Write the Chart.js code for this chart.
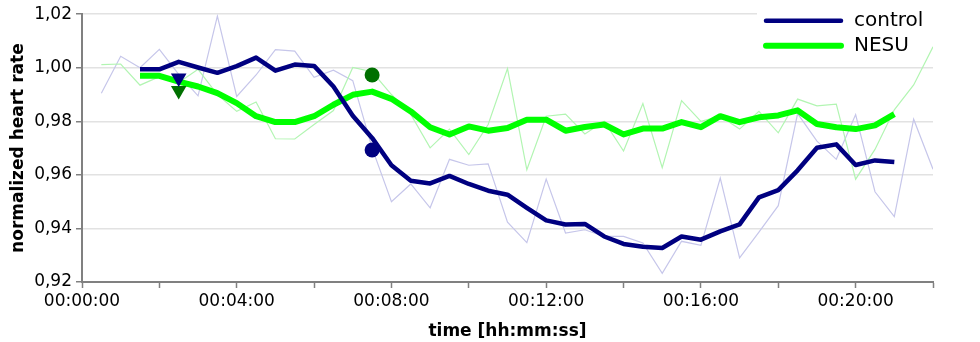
<!DOCTYPE html>
<html>
<head>
<meta charset="utf-8">
<script src="https://cdn.jsdelivr.net/npm/chart.js@4.4.1/dist/chart.umd.min.js"></script>
<style>
  html, body { margin: 0; padding: 0; background: #fff; }
  #chart { display: block; }
</style>
</head>
<body>
<canvas id="chart" width="980" height="342"></canvas>
<script>
// time in minutes
const rawTimes = [0.5, 1, 1.5, 2, 2.5, 3, 3.5, 4, 4.5, 5, 5.5, 6, 6.5, 7, 7.5, 8, 8.5, 9, 9.5, 10, 10.5, 11,
    11.5, 12, 12.5, 13, 13.5, 14, 14.5, 15, 15.5, 16, 16.5, 17, 17.5, 18, 18.5, 19, 19.5, 20, 20.5, 21, 21.5, 22];
const controlRaw = [0.9905, 1.0043, 1.0000, 1.0069, 0.9975, 0.9895, 1.0193, 0.9893, 0.9973, 1.0068, 1.0062,
    0.9964, 0.9991, 0.9952, 0.9700, 0.9500, 0.9566, 0.9477, 0.9658, 0.9636, 0.9641, 0.9423, 0.9347, 0.9584,
    0.9383, 0.9395, 0.9370, 0.9370, 0.9346, 0.9232, 0.9352, 0.9337, 0.9588, 0.9290, 0.9386, 0.9485, 0.9829,
    0.9726, 0.9658, 0.9825, 0.9537, 0.9444, 0.9808, 0.9621];
const nesuRaw = [1.0012, 1.0014, 0.9935, 0.9967, 0.9945, 0.9994, 0.9900, 0.9837, 0.9872, 0.9735, 0.9734,
    0.9788, 0.9840, 1.0001, 0.9985, 0.9900, 0.9826, 0.9701, 0.9771, 0.9676, 0.9788, 0.9997, 0.9619, 0.9819,
    0.9827, 0.9753, 0.9800, 0.9689, 0.9866, 0.9627, 0.9877, 0.9800, 0.9819, 0.9771, 0.9837, 0.9757, 0.9883,
    0.9858, 0.9864, 0.9584, 0.9695, 0.9843, 0.9936, 1.0078];

const smoothTimes = [1.5, 2, 2.5, 3, 3.5, 4, 4.5, 5, 5.5, 6, 6.5, 7, 7.5, 8, 8.5, 9, 9.5, 10, 10.5, 11,
    11.5, 12, 12.5, 13, 13.5, 14, 14.5, 15, 15.5, 16, 16.5, 17, 17.5, 18, 18.5, 19, 19.5, 20, 20.5, 21];
const controlSmooth = [0.9994, 0.9994, 1.0022, 1.0001, 0.9981, 1.0006, 1.0038, 0.9989, 1.0012, 1.0007,
    0.9930, 0.9821, 0.9738, 0.9636, 0.9578, 0.9568, 0.9596, 0.9566, 0.9541, 0.9526, 0.9477, 0.9430, 0.9415,
    0.9417, 0.9370, 0.9342, 0.9332, 0.9327, 0.9370, 0.9358, 0.9389, 0.9415, 0.9516, 0.9543, 0.9617, 0.9701,
    0.9714, 0.9637, 0.9654, 0.9648];
const nesuSmooth = [0.9970, 0.9970, 0.9948, 0.9930, 0.9905, 0.9868, 0.9819, 0.9797, 0.9797, 0.9819,
    0.9862, 0.9899, 0.9911, 0.9884, 0.9837, 0.9778, 0.9751, 0.9781, 0.9765, 0.9775, 0.9806, 0.9806, 0.9765,
    0.9779, 0.9788, 0.9751, 0.9773, 0.9773, 0.9797, 0.9778, 0.9819, 0.9797, 0.9815, 0.9822, 0.9841, 0.9790,
    0.9778, 0.9771, 0.9785, 0.9827];

// marked events
const minTimes = [2.5];
const controlMin = [0.9962];
const nesuMin = [0.9915];
const dotTimes = [7.5];
const controlDot = [0.9693];
const nesuDot = [0.9973];

const legendLabels = ['control', 'NESU'];

const NAVY = '#000080';
const GREEN = '#00ff00';
const DARK_GREEN = '#007000';

function pts(xs, ys) {
    return xs.map((x, i) => ({ x: x, y: ys[i] }));
}

function pad(n) {
    return String(n).padStart(2, '0');
}

function fmtTime(m) {
    const total = Math.round(m * 60);
    const h = Math.floor(total / 3600);
    const mm = Math.floor((total % 3600) / 60);
    const ss = total % 60;
    return pad(h) + ':' + pad(mm) + ':' + pad(ss);
}

// legend drawn inside the plot, top right
const legendBox = {
    id: 'legendBox',
    beforeDatasetsDraw(chart) {
        const { ctx, chartArea } = chart;
        ctx.save();
        ctx.fillStyle = '#ffffff';
        ctx.fillRect(chartArea.right - 176, chartArea.top - 10, 176, 52);
        ctx.restore();
    },
    afterDatasetsDraw(chart) {
        const { ctx, chartArea } = chart;
        const colors = [NAVY, GREEN];
        const widths = [4.5, 6];
        ctx.save();
        ctx.font = '20px "DejaVu Sans"';
        ctx.textBaseline = 'middle';
        ctx.fillStyle = '#000';
        legendLabels.forEach((label, i) => {
            const y = chartArea.top + 6.5 + i * 25;
            ctx.beginPath();
            ctx.strokeStyle = colors[i];
            ctx.lineWidth = widths[i];
            ctx.lineCap = 'round';
            ctx.moveTo(chartArea.right - 167, y);
            ctx.lineTo(chartArea.right - 92, y);
            ctx.stroke();
            ctx.fillText(label, chartArea.right - 79, y);
        });
        ctx.restore();
    }
};

const ctx = document.getElementById('chart').getContext('2d');

new Chart(ctx, {
    type: 'line',
    data: {
        datasets: [
            {
                label: 'control raw',
                data: pts(rawTimes, controlRaw),
                borderColor: '#c6c6ea',
                borderWidth: 1.2,
                pointRadius: 0,
                order: 6
            },
            {
                label: 'NESU raw',
                data: pts(rawTimes, nesuRaw),
                borderColor: '#b2f5b2',
                borderWidth: 1.2,
                pointRadius: 0,
                order: 5
            },
            {
                label: 'NESU',
                data: pts(smoothTimes, nesuSmooth),
                borderColor: GREEN,
                borderWidth: 6,
                pointRadius: 0,
                borderJoinStyle: 'round',
                order: 4
            },
            {
                label: 'control',
                data: pts(smoothTimes, controlSmooth),
                borderColor: NAVY,
                borderWidth: 4.5,
                pointRadius: 0,
                borderJoinStyle: 'round',
                order: 3
            },
            {
                label: 'NESU min',
                data: pts(minTimes, nesuMin),
                showLine: false,
                pointStyle: 'triangle',
                rotation: 180,
                pointRadius: 9,
                backgroundColor: DARK_GREEN,
                borderColor: DARK_GREEN,
                borderWidth: 0,
                order: 2
            },
            {
                label: 'control min',
                data: pts(minTimes, controlMin),
                showLine: false,
                pointStyle: 'triangle',
                rotation: 180,
                pointRadius: 9,
                backgroundColor: NAVY,
                borderColor: NAVY,
                borderWidth: 0,
                order: 1
            },
            {
                label: 'NESU dot',
                data: pts(dotTimes, nesuDot),
                showLine: false,
                pointStyle: 'circle',
                pointRadius: 7.5,
                backgroundColor: DARK_GREEN,
                borderColor: DARK_GREEN,
                borderWidth: 0,
                order: 1
            },
            {
                label: 'control dot',
                data: pts(dotTimes, controlDot),
                showLine: false,
                pointStyle: 'circle',
                pointRadius: 7.5,
                backgroundColor: NAVY,
                borderColor: NAVY,
                borderWidth: 0,
                order: 0
            }
        ]
    },
    options: {
        responsive: false,
        animation: false,
        layout: {
            padding: { top: 12, right: 47, left: 0, bottom: 0 }
        },
        plugins: {
            legend: { display: false },
            tooltip: { enabled: false }
        },
        scales: {
            x: {
                type: 'linear',
                min: 0,
                max: 22,
                afterFit: s => { s.height = 60; },
                border: { color: '#808080', width: 2 },
                grid: {
                    drawOnChartArea: false,
                    drawTicks: true,
                    tickLength: 6,
                    tickColor: '#808080',
                    tickWidth: 1.5
                },
                ticks: {
                    stepSize: 2,
                    maxRotation: 0,
                    autoSkip: false,
                    padding: 3,
                    color: '#000',
                    font: { family: 'DejaVu Sans', size: 17 },
                    callback: v => (v % 4 === 0 ? fmtTime(v) : '')
                },
                title: {
                    display: true,
                    text: 'time [hh:mm:ss]',
                    color: '#000',
                    font: { family: 'DejaVu Sans', size: 17, weight: 'bold' },
                    padding: { top: 4, bottom: 0 }
                }
            },
            y: {
                min: 0.92,
                max: 1.02,
                afterFit: s => { s.width = 82; },
                border: { color: '#808080', width: 2 },
                grid: {
                    color: '#e2e2e2',
                    lineWidth: 1.5,
                    drawTicks: true,
                    tickLength: 6,
                    tickColor: '#808080',
                    tickWidth: 1.5
                },
                ticks: {
                    stepSize: 0.02,
                    padding: 4,
                    color: '#000',
                    font: { family: 'DejaVu Sans', size: 17 },
                    callback: v => v.toFixed(2).replace('.', ',')
                },
                title: {
                    display: true,
                    text: 'normalized heart rate',
                    color: '#000',
                    font: { family: 'DejaVu Sans', size: 17, weight: 'bold' },
                    padding: { top: 8, bottom: 0 }
                }
            }
        }
    },
    plugins: [legendBox]
});
</script>
</body>
</html>
